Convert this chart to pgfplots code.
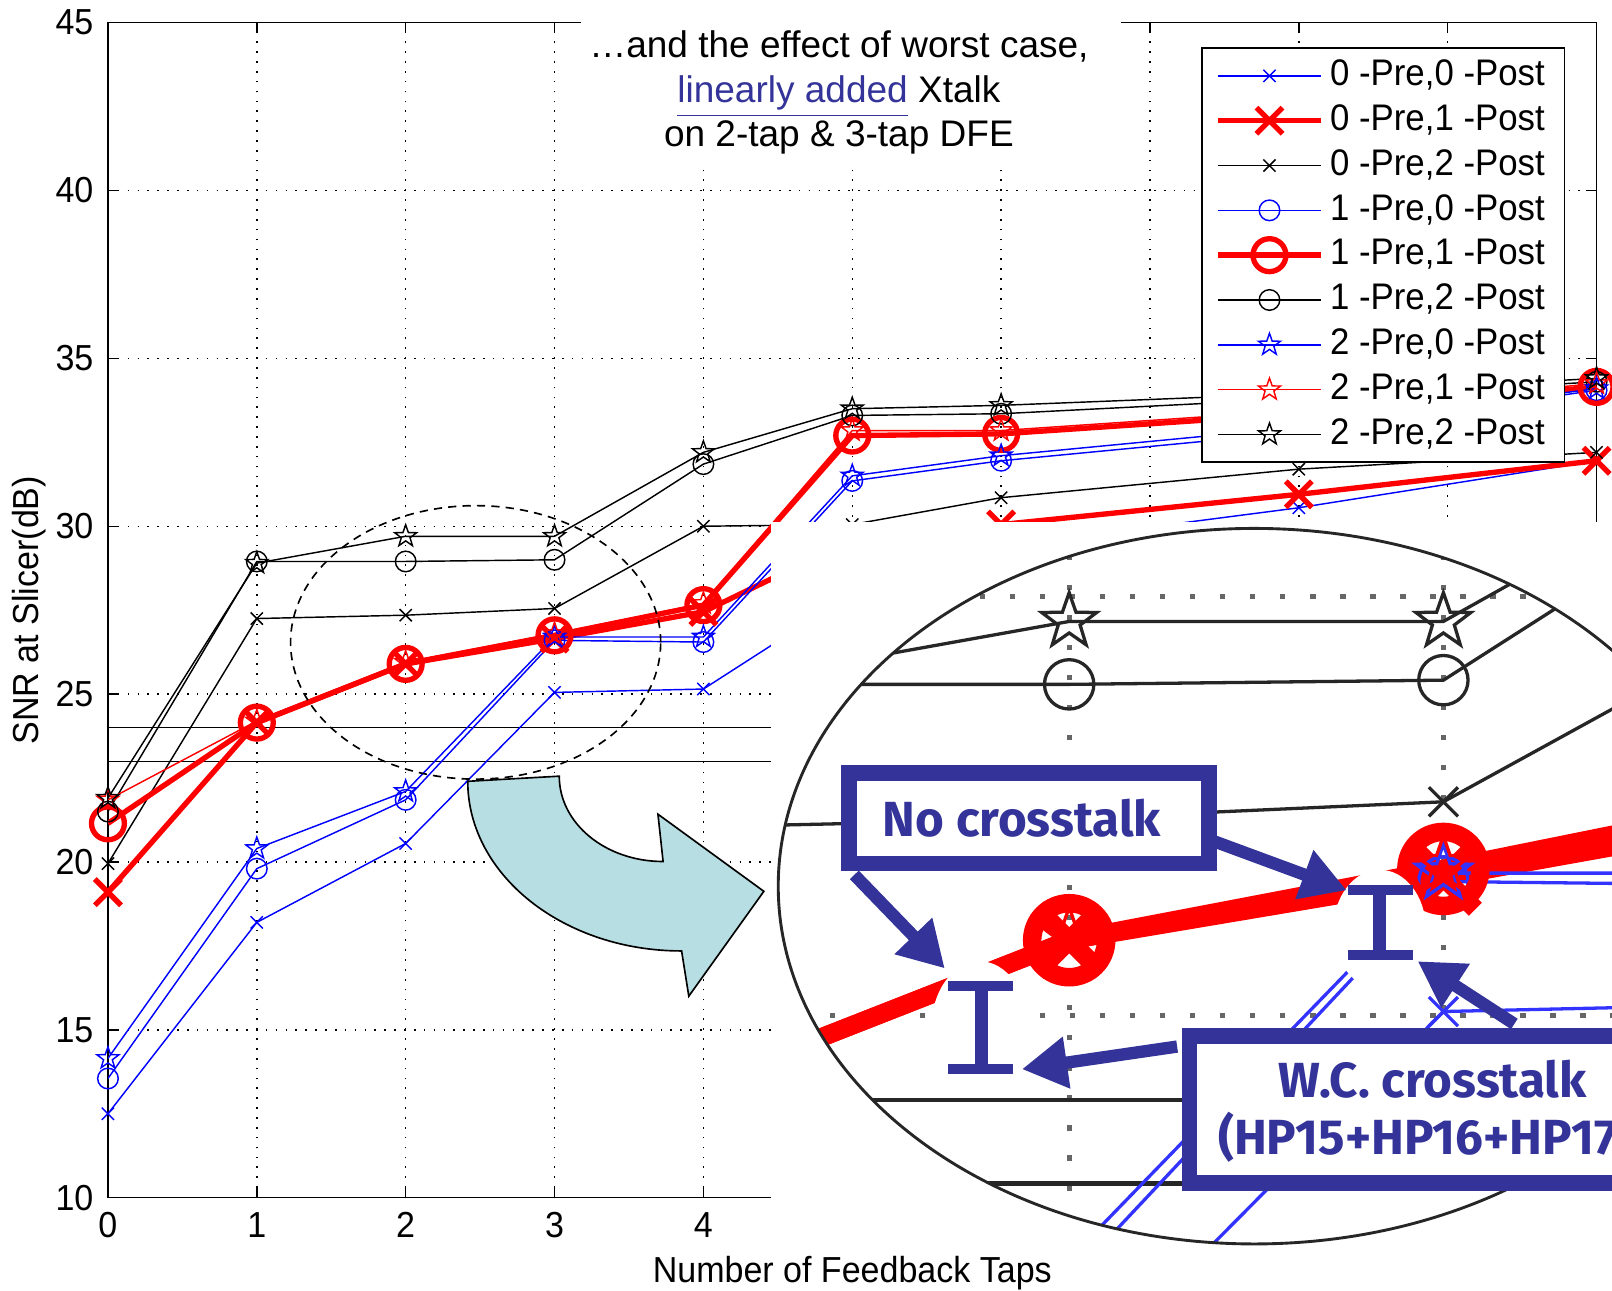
\documentclass[border=0pt]{standalone}
\usepackage{fontspec}
\setmainfont{Liberation Sans}
\newfontfamily\plotfont[FakeStretch=0.94]{Liberation Sans}
\newfontfamily\notefont{Fira Sans}
\usepackage{pgfplots}
\pgfplotsset{compat=1.18}
\usepackage{pgfplotstable}
\usetikzlibrary{arrows.meta}

\definecolor{mblue}{RGB}{0,0,255}
\definecolor{notec}{RGB}{51,51,153}
\definecolor{arrowfill}{RGB}{183,222,226}

% open five-pointed star, like MATLAB's pentagram marker
\pgfdeclareplotmark{pstar}{%
  \pgfpathmoveto{\pgfpointpolar{90}{\pgfplotmarksize}}%
  \pgfpathlineto{\pgfpointpolar{126}{0.4\pgfplotmarksize}}%
  \pgfpathlineto{\pgfpointpolar{162}{\pgfplotmarksize}}%
  \pgfpathlineto{\pgfpointpolar{198}{0.4\pgfplotmarksize}}%
  \pgfpathlineto{\pgfpointpolar{234}{\pgfplotmarksize}}%
  \pgfpathlineto{\pgfpointpolar{270}{0.4\pgfplotmarksize}}%
  \pgfpathlineto{\pgfpointpolar{306}{\pgfplotmarksize}}%
  \pgfpathlineto{\pgfpointpolar{342}{0.4\pgfplotmarksize}}%
  \pgfpathlineto{\pgfpointpolar{18}{\pgfplotmarksize}}%
  \pgfpathlineto{\pgfpointpolar{54}{0.4\pgfplotmarksize}}%
  \pgfpathclose
  \pgfusepathqstroke
}

% SNR at slicer vs number of feedback taps
\pgfplotstableread{
x   c00   c01   c02   c10   c11   c12   c20   c21   c22
0  12.50 19.10 19.95 13.55 21.15 21.50 14.15 21.85 21.90
1  18.20 24.15 27.25 19.80 24.15 28.95 20.40 24.20 28.90
2  20.55 25.90 27.35 21.85 25.90 28.95 22.10 25.95 29.70
3  25.05 26.65 27.55 26.60 26.75 29.00 26.70 26.80 29.70
4  25.15 27.45 30.00 26.55 27.65 31.85 26.70 27.70 32.20
5  28.00 29.60 30.05 31.35 32.70 33.30 31.50 32.85 33.50
6  29.40 30.05 30.85 31.95 32.75 33.35 32.10 32.85 33.60
8  30.55 30.95 31.70 32.80 33.35 33.80 32.95 33.45 33.95
10 31.95 31.95 32.20 34.05 34.15 34.30 34.10 34.25 34.40
}\snr

\pgfplotsset{
  m00/.style={mblue, line width=0.35pt, mark=x, mark size=2.1pt},
  m01/.style={red, line width=1.3pt, mark=x, mark size=4.5pt},
  m02/.style={black, line width=0.35pt, mark=x, mark size=2.1pt},
  m10/.style={mblue, line width=0.35pt, mark=o, mark size=2.5pt},
  m11/.style={red, line width=1.3pt, mark=o, mark size=4pt},
  m12/.style={black, line width=0.35pt, mark=o, mark size=2.5pt},
  m20/.style={mblue, line width=0.35pt, mark=pstar, mark size=2.8pt},
  m21/.style={red, line width=0.35pt, mark=pstar, mark size=2.8pt},
  m22/.style={black, line width=0.35pt, mark=pstar, mark size=2.8pt},
  z00/.style={mblue!80, line width=0.8pt, mark=x, mark size=5pt},
  z01/.style={red, line width=4.5pt, mark=x, mark size=11pt},
  z02/.style={black!85, line width=0.8pt, mark=x, mark size=5pt},
  z10/.style={mblue!80, line width=0.8pt, mark=o, mark size=6pt},
  z11/.style={red, line width=4.5pt, mark=o, mark size=9pt},
  z12/.style={black!85, line width=0.8pt, mark=o, mark size=6pt},
  z20/.style={mblue!80, line width=0.8pt, mark=pstar, mark size=7pt},
  z21/.style={red, line width=0.8pt, mark=pstar, mark size=7pt},
  z22/.style={black!85, line width=0.8pt, mark=pstar, mark size=7pt},
}

\begin{document}
\begin{tikzpicture}
\useasboundingbox (0,0) rectangle (392pt,313.75pt);
\clip (0,0) rectangle (392pt,313.75pt);

\begin{axis}[
  at={(26.25pt,22.5pt)}, anchor=south west,
  scale only axis, width=362pt, height=285.75pt,
  xmin=0, xmax=10, ymin=10, ymax=45,
  xtick={0,...,10}, ytick={10,15,...,45},
  grid=major,
  major grid style={dotted, black, line width=0.35pt},
  axis line style={line width=0.35pt},
  tick style={black, line width=0.35pt},
  major tick length=2.5pt, tick align=inside,
  xlabel={Number of Feedback Taps},
  ylabel={SNR at Slicer(dB)},
  xlabel shift=-2.5pt, ylabel shift=-4.5pt,
  label style={font=\plotfont\fontsize{8.8}{10}\selectfont},
  tick label style={font=\plotfont\fontsize{8.8}{10}\selectfont},
  /pgf/number format/assume math mode=true,
  legend style={at={(0.979,0.979)}, anchor=north east, draw=black,
    line width=0.4pt, font=\plotfont\fontsize{9}{10}\selectfont,
    inner xsep=3.2pt, inner ysep=1.3pt, row sep=0pt,
    nodes={inner xsep=1.6pt, inner ysep=1.2pt, text height=6.6pt, text depth=1.9pt}},
  legend cell align=left,
  legend image code/.code={\draw[mark repeat=2, mark phase=2, #1]
    plot coordinates {(0pt,0pt) (12.5pt,0pt) (25pt,0pt)};},
]
\addplot[forget plot, black, line width=0.35pt] coordinates {(0,24) (10,24)};
\addplot[forget plot, black, line width=0.35pt] coordinates {(0,23) (10,23)};
\addplot[m00] table[x=x, y=c00] {\snr}; \addlegendentry{0 -Pre,0 -Post}
\addplot[m01] table[x=x, y=c01] {\snr}; \addlegendentry{0 -Pre,1 -Post}
\addplot[m02] table[x=x, y=c02] {\snr}; \addlegendentry{0 -Pre,2 -Post}
\addplot[m10] table[x=x, y=c10] {\snr}; \addlegendentry{1 -Pre,0 -Post}
\addplot[m11] table[x=x, y=c11] {\snr}; \addlegendentry{1 -Pre,1 -Post}
\addplot[m12] table[x=x, y=c12] {\snr}; \addlegendentry{1 -Pre,2 -Post}
\addplot[m20] table[x=x, y=c20] {\snr}; \addlegendentry{2 -Pre,0 -Post}
\addplot[m21] table[x=x, y=c21] {\snr}; \addlegendentry{2 -Pre,1 -Post}
\addplot[m22] table[x=x, y=c22] {\snr}; \addlegendentry{2 -Pre,2 -Post}
\draw[line width=0.4pt, dash pattern=on 2pt off 1.5pt]
  (axis cs:2.47,26.54) ellipse [x radius=45pt, y radius=33.25pt];
\end{axis}

% annotations, in pixel units of the reference (y downwards)
\begin{scope}[x=0.25pt, y=-0.25pt, shift={(0pt,313.75pt)}]
  % curved arrow towards the magnified view
  \draw[fill=arrowfill, line width=0.4pt]
    (455,760) .. controls (455,851) and (548,925) .. (663,925)
    -- (670,969) -- (743,867) -- (640,792) -- (645,838)
    .. controls (589,838) and (544,801) .. (544,755) -- cycle;
  % title over the top of the axis
  \fill[white] (565,-5) rectangle (1090,163);
  \node[align=center, inner sep=0pt, font=\fontsize{9}{10.75}\selectfont] at (816,90)
    {\ldots and the effect of worst case,\\
     \textcolor{notec}{\underline{linearly added}} Xtalk\\
     on 2-tap \& 3-tap DFE};
  % ground of the magnified view
  \fill[white] (750,508) rectangle (1580,1216);
\end{scope}

% magnified view of taps 2 and 3
\begin{scope}
\clip (305pt,98.25pt) ellipse [x radius=115.75pt, y radius=87pt];
\begin{axis}[
  at={(187.2pt,9.625pt)}, anchor=south west,
  scale only axis, width=236.6pt, height=177.48pt,
  xmin=1.2, xmax=3.8, ymin=22.2, ymax=30.9,
  axis line style={draw=none}, tick style={draw=none},
  xtick={2,3}, ytick={25,30}, xticklabels={}, yticklabels={},
  grid=major,
  major grid style={black!60, line width=1.3pt, dash pattern=on 1.3pt off 6pt},
]
\addplot[black!85, line width=1pt] coordinates {(0,24) (10,24)};
\addplot[black!85, line width=1pt] coordinates {(0,23) (10,23)};
\addplot[z00] table[x=x, y=c00] {\snr};
\addplot[z01] table[x=x, y=c01] {\snr};
\addplot[z02] table[x=x, y=c02] {\snr};
\addplot[z10] table[x=x, y=c10] {\snr};
\addplot[z11] table[x=x, y=c11] {\snr};
\addplot[z12] table[x=x, y=c12] {\snr};
\addplot[z20] table[x=x, y=c20] {\snr};
\addplot[z21] table[x=x, y=c21] {\snr};
\addplot[z22] table[x=x, y=c22] {\snr};
\end{axis}
\end{scope}

\begin{scope}[x=0.25pt, y=-0.25pt, shift={(0pt,313.75pt)}]
  \draw[black!85, line width=0.7pt] (1220,862) ellipse [x radius=115.75pt, y radius=87pt];
  % white spots with the error-bar glyphs
  \fill[white] (953,1000) ellipse [x radius=11.75pt, y radius=16.25pt];
  \fill[white] (1342,904) ellipse [x radius=11.25pt, y radius=14.5pt];
  \fill[notec] (922,954) rectangle (985,964);
  \fill[notec] (948,954) rectangle (961,1045);
  \fill[notec] (922,1035) rectangle (985,1045);
  \fill[notec] (1311,861) rectangle (1374,871);
  \fill[notec] (1336,861) rectangle (1348,934);
  \fill[notec] (1311,924) rectangle (1374,934);
  % labels
  \draw[notec, line width=3.8pt, fill=white] (826,752) rectangle (1176,840);
  \node[notec, inner sep=0pt, font=\notefont\bfseries\fontsize{12}{14}\selectfont]
    at (994,796) {No crosstalk};
  \draw[notec, line width=3.8pt, fill=white] (1157,1008) rectangle (1720,1151);
  \node[notec, anchor=west, inner sep=0pt, font=\notefont\bfseries\fontsize{12}{14}\selectfont]
    at (1243,1050) {W.C. crosstalk};
  \node[notec, anchor=west, inner sep=0pt, font=\notefont\bfseries\fontsize{12}{14}\selectfont]
    at (1184,1106) {(HP15+HP16+HP17)};
  % pointers
  \begin{scope}[notec, line width=3pt, -{Triangle[length=11pt, width=12pt]}]
    \draw (831,851) -- (919,942);
    \draw (1180,818) -- (1310,866);
    \draw (1145,1018) -- (994,1040);
    \draw (1473,996) -- (1379,935);
  \end{scope}
\end{scope}
\end{tikzpicture}
\end{document}
